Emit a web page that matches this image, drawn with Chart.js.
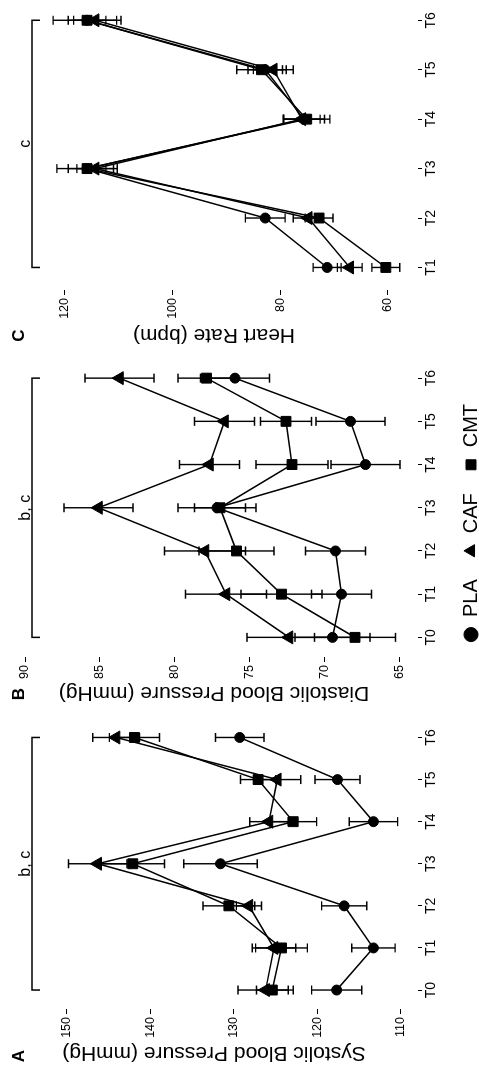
<!DOCTYPE html>
<html><head><meta charset="utf-8">
<script src="https://cdn.jsdelivr.net/npm/chart.js@4.4.1/dist/chart.umd.min.js"></script>
<style>
html,body{margin:0;padding:0;background:#fff;overflow:hidden;width:479px;height:1072px;}
#fig{position:absolute;left:0;top:0;width:1072px;height:479px;transform-origin:0 0;transform:translateY(1072px) rotate(-90deg);background:#fff;}
canvas{position:absolute;top:0;}
</style></head><body>
<div id="fig">
<canvas id="cA" width="362" height="479" style="left:0px"></canvas>
<canvas id="cB" width="360" height="479" style="left:362px"></canvas>
<canvas id="cC" width="350" height="479" style="left:722px"></canvas>
</div>
<script>
// ---------- data ----------
const groups = ['PLA', 'CAF', 'CMT'];
const timesAB = ['T0', 'T1', 'T2', 'T3', 'T4', 'T5', 'T6'];
const timesC = ['T1', 'T2', 'T3', 'T4', 'T5', 'T6'];

// A: Systolic Blood Pressure (mmHg)
const sbpPLA = [117.7, 113.3, 116.8, 131.6, 113.3, 117.6, 129.3];
const sbpCAF = [126.2, 125.2, 128.2, 146.3, 125.8, 124.8, 144.1];
const sbpCMT = [125.4, 124.3, 130.6, 142.1, 122.9, 127.1, 141.9];
const sbpPLAerr = [3.0, 2.6, 2.7, 4.4, 2.9, 2.7, 2.9];
const sbpCAFerr = [3.3, 2.6, 1.5, 3.5, 2.3, 2.8, 2.8];
const sbpCMTerr = [1.9, 3.1, 3.1, 3.8, 2.8, 2.1, 3.0];
const sbpTicks = [110, 120, 130, 140, 150];

// B: Diastolic Blood Pressure (mmHg)
const dbpPLA = [69.5, 68.9, 69.3, 77.2, 67.3, 68.3, 76.0];
const dbpCAF = [72.4, 76.6, 78.0, 85.1, 77.7, 76.7, 83.7];
const dbpCMT = [68.0, 72.9, 75.9, 77.0, 72.2, 72.6, 77.9];
const dbpPLAerr = [2.5, 2.0, 2.0, 2.6, 2.3, 2.3, 2.3];
const dbpCAFerr = [2.8, 2.7, 2.7, 2.3, 2.0, 2.0, 2.3];
const dbpCMTerr = [2.7, 2.7, 2.5, 1.7, 2.4, 1.7, 1.9];
const dbpTicks = [65, 70, 75, 80, 85, 90];

// C: Heart Rate (bpm)
const hrPLA = [71.3, 82.8, 115.9, 75.6, 82.8, 115.9];
const hrCAF = [67.1, 74.8, 114.4, 76.0, 81.3, 114.4];
const hrCMT = [60.4, 72.8, 115.9, 75.1, 83.5, 115.9];
const hrPLAerr = [2.6, 3.7, 3.5, 3.8, 3.2, 3.5];
const hrCAFerr = [2.3, 2.8, 3.4, 3.4, 3.7, 4.0];
const hrCMTerr = [2.6, 2.6, 5.6, 4.3, 4.6, 6.3];
const hrTicks = [60, 80, 100, 120];

// ---------- styling ----------
const FONT = "'Liberation Sans', Arial, Helvetica, sans-serif";
Chart.defaults.font.family = FONT;
Chart.defaults.color = '#000';
const markers = [
  {pointStyle: 'circle', pointRadius: 5},
  {pointStyle: 'triangle', pointRadius: 7.5},
  {pointStyle: 'rect', pointRadius: 7}
];
const TITLE_Y = 214;

const decor = {
  id: 'decor',
  beforeDatasetsDraw(chart, args, o) {
    const ys = chart.scales.y, ctx = chart.ctx;
    ctx.save();
    ctx.strokeStyle = '#000';
    ctx.lineWidth = 1.4;
    chart.data.datasets.forEach((ds, i) => {
      const meta = chart.getDatasetMeta(i);
      o.errors[i].forEach((e, j) => {
        const v = ds.data[j].y, p = meta.data[j];
        const y1 = ys.getPixelForValue(v + e), y2 = ys.getPixelForValue(v - e);
        ctx.beginPath();
        ctx.moveTo(p.x, y1); ctx.lineTo(p.x, y2);
        ctx.moveTo(p.x - 4.5, y1); ctx.lineTo(p.x + 4.5, y1);
        ctx.moveTo(p.x - 4.5, y2); ctx.lineTo(p.x + 4.5, y2);
        ctx.stroke();
      });
    });
    ctx.restore();
  },
  afterDraw(chart, args, o) {
    const ctx = chart.ctx, xs = chart.scales.x;
    const n = chart.data.datasets[0].data.length;
    ctx.save();
    ctx.fillStyle = '#000';
    ctx.strokeStyle = '#000';
    // panel letter
    ctx.font = 'bold 17px ' + FONT;
    ctx.textAlign = 'center';
    ctx.textBaseline = 'middle';
    ctx.fillText(o.letter, o.letterX, 19.5);
    // axis title (vertical)
    ctx.save();
    ctx.translate(o.titleX, TITLE_Y);
    ctx.rotate(-Math.PI / 2);
    ctx.font = '21px ' + FONT;
    ctx.fillText(o.title, 0, 0);
    ctx.restore();
    // significance bracket
    const x1 = xs.getPixelForValue(0), x2 = xs.getPixelForValue(n - 1);
    ctx.lineWidth = 1.5;
    ctx.beginPath();
    ctx.moveTo(x1, 40); ctx.lineTo(x1, 32); ctx.lineTo(x2, 32); ctx.lineTo(x2, 40);
    ctx.stroke();
    ctx.font = '16px ' + FONT;
    ctx.textBaseline = 'alphabetic';
    ctx.fillText(o.bracket, (x1 + x2) / 2, 29.5);
    ctx.restore();
  }
};

function makeChart(id, cats, series, errs, yTicks, cfg) {
  return new Chart(document.getElementById(id), {
    type: 'line',
    data: {
      datasets: series.map((vals, i) => Object.assign({
        label: groups[i],
        data: vals.map((v, j) => ({x: j, y: v})),
        borderColor: '#000',
        backgroundColor: '#000',
        pointBackgroundColor: '#000',
        pointBorderColor: '#000',
        pointBorderWidth: 1,
        borderWidth: 1.5,
        tension: 0,
        clip: false
      }, markers[i]))
    },
    options: {
      responsive: false,
      animation: false,
      devicePixelRatio: 1,
      events: [],
      layout: {padding: {top: 25, left: cfg.padLeft, right: cfg.padRight, bottom: 0}},
      scales: {
        x: {
          type: 'linear',
          min: cfg.xMin, max: cfg.xMax,
          afterBuildTicks: s => { s.ticks = cats.map((c, i) => ({value: i})); },
          afterFit: s => { const lg = s.chart.legend; s.height = s.chart.height - 403 - (lg ? lg.height : 0); },
          ticks: {autoSkip: false, maxRotation: 0, padding: 1, color: '#000',
                  font: {size: 14}, callback: (v) => cats[v]},
          grid: {display: true, drawOnChartArea: false, drawTicks: true, tickLength: 19,
                 tickColor: '#000', tickWidth: 1, tickBorderDash: [0, 15, 4, 100]},
          border: {display: false}
        },
        y: {
          type: 'linear',
          min: cfg.yMin, max: cfg.yMax,
          afterBuildTicks: s => { s.ticks = yTicks.map(v => ({value: v})); },
          afterFit: s => { s.width = cfg.yWidth; },
          ticks: {padding: 3, color: '#000', font: {size: 12.5}},
          grid: {display: true, drawOnChartArea: false, drawTicks: true, tickLength: 5,
                 tickColor: '#000', tickWidth: 1},
          border: {display: false}
        }
      },
      plugins: {
        legend: cfg.legend ? {
          display: true, position: 'bottom', maxHeight: 39,
          labels: {usePointStyle: true, boxWidth: 15, boxHeight: 10, padding: 21,
                   color: '#000', font: {size: 20}}
        } : {display: false},
        tooltip: {enabled: false},
        decor: {errors: errs, letter: cfg.letter, letterX: cfg.letterX, title: cfg.title,
                titleX: cfg.titleX, bracket: cfg.bracket}
      }
    },
    plugins: [decor]
  });
}

makeChart('cA', timesAB, [sbpPLA, sbpCAF, sbpCMT], [sbpPLAerr, sbpCAFerr, sbpCMTerr], sbpTicks, {
  xMin: -0.4506, xMax: 6.4506, yMin: 109.76, yMax: 155.0, yWidth: 63, padLeft: 0, padRight: 8,
  letter: 'A', letterX: 16, title: 'Systolic Blood Pressure (mmHg)', titleX: 19, bracket: 'b, c', legend: false
});
makeChart('cB', timesAB, [dbpPLA, dbpCAF, dbpCMT], [dbpPLAerr, dbpCAFerr, dbpCMTerr], dbpTicks, {
  xMin: -0.4545, xMax: 6.4545, yMin: 64.8, yMax: 90.0, yWidth: 36, padLeft: 17, padRight: 3,
  letter: 'B', letterX: 16, title: 'Diastolic Blood Pressure (mmHg)', titleX: 17, bracket: 'b, c', legend: true
});
makeChart('cC', timesC, [hrPLA, hrCAF, hrCMT], [hrPLAerr, hrCAFerr, hrCMTerr], hrTicks, {
  xMin: -0.456, xMax: 5.238, yMin: 57.21, yMax: 127.43, yWidth: 60, padLeft: 0, padRight: 3,
  letter: 'C', letterX: 14.5, title: 'Heart Rate (bpm)', titleX: 15, bracket: 'c', legend: false
});
</script>
</body></html>
